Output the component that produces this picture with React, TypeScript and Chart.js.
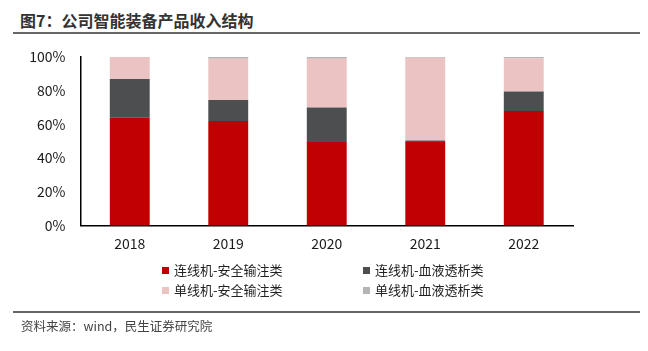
import React, { useEffect, useRef } from "react";
import { Chart, registerables } from "chart.js";

Chart.register(...registerables);

const categories = ["2018", "2019", "2020", "2021", "2022"];
const seriesNames = ["连线机-安全输注类", "连线机-血液透析类", "单线机-安全输注类", "单线机-血液透析类"];
const lianxianInfusion = [64, 62, 49.5, 49.5, 68];
const lianxianDialysis = [23, 12.5, 20.5, 1, 11.5];
const danxianInfusion = [13, 24.5, 29, 49, 19.8];
const danxianDialysis = [0, 1, 1, 0.5, 0.7];
const seriesColors = ["#C00000", "#4D4E50", "#EBC3C3", "#B4B4B4"];
const yTicks = [0, 20, 40, 60, 80, 100];

const FONT = "'Noto Sans CJK SC', 'Noto Sans', sans-serif";

export default function App() {
  const ref = useRef<HTMLCanvasElement | null>(null);

  useEffect(() => {
    document.body.style.margin = "0";
    const values = [lianxianInfusion, lianxianDialysis, danxianInfusion, danxianDialysis];
    const chart = new Chart(ref.current as HTMLCanvasElement, {
      type: "bar",
      data: {
        labels: categories,
        datasets: seriesNames.map((name, i) => ({
          label: name,
          data: values[i],
          backgroundColor: seriesColors[i],
          borderWidth: 0,
          categoryPercentage: 1,
          barPercentage: 0.405,
        })),
      },
      options: {
        animation: false,
        responsive: false,
        maintainAspectRatio: false,
        layout: { padding: { top: 57, left: 0, right: 75, bottom: 95.5 } },
        plugins: { legend: { display: false }, tooltip: { enabled: false } },
        scales: {
          x: {
            stacked: true,
            grid: { display: false, drawTicks: false },
            border: { display: true, color: "#000", width: 1.5 },
            ticks: { color: "#1a1a1a", font: { family: FONT, size: 14 }, padding: 10 },
            afterFit: (s: any) => {
              s.height = 30;
            },
          },
          y: {
            stacked: true,
            min: 0,
            max: 100,
            afterBuildTicks: (s: any) => {
              s.ticks = yTicks.map((v) => ({ value: v }));
            },
            grid: { display: false, drawTicks: false },
            border: { display: true, color: "#000", width: 1.5 },
            ticks: {
              color: "#1a1a1a",
              font: { family: FONT, size: 14 },
              padding: 15,
              callback: (v: any) => v + "%",
            },
            afterFit: (s: any) => {
              s.width = 80.5;
            },
          },
        },
      },
    });
    return () => chart.destroy();
  }, []);

  const legendItem = (i: number, left: number, top: number) => (
    <div
      key={i}
      style={{
        position: "absolute",
        left,
        top,
        display: "flex",
        alignItems: "center",
        fontFamily: FONT,
        fontSize: 13,
        color: "#222",
        lineHeight: "16px",
        whiteSpace: "nowrap",
      }}
    >
      <span style={{ display: "inline-block", width: 7, height: 7, background: seriesColors[i], marginRight: 5 }} />
      {seriesNames[i]}
    </div>
  );

  return (
    <div style={{ position: "fixed", left: 0, top: 0, width: 648, height: 351, background: "#fff", overflow: "hidden" }}>
      <div
        style={{
          position: "absolute",
          left: 20,
          top: 10,
          fontFamily: FONT,
          fontWeight: 700,
          fontSize: 16,
          lineHeight: "20px",
          color: "#333",
          whiteSpace: "nowrap",
        }}
      >
        图7：公司智能装备产品收入结构
      </div>
      <div style={{ position: "absolute", left: 13, top: 32, width: 627, height: 2, background: "#666" }} />
      <canvas ref={ref} width={648} height={351} style={{ position: "absolute", left: 0, top: 0 }} />
      {legendItem(0, 162, 262)}
      {legendItem(1, 363, 262)}
      {legendItem(2, 162, 282)}
      {legendItem(3, 363, 282)}
      <div style={{ position: "absolute", left: 13, top: 311, width: 627, height: 2, background: "#666" }} />
      <div
        style={{
          position: "absolute",
          left: 21,
          top: 318,
          fontFamily: FONT,
          fontSize: 12.5,
          lineHeight: "16px",
          color: "#444",
          whiteSpace: "nowrap",
        }}
      >
        资料来源：wind，民生证券研究院
      </div>
    </div>
  );
}
